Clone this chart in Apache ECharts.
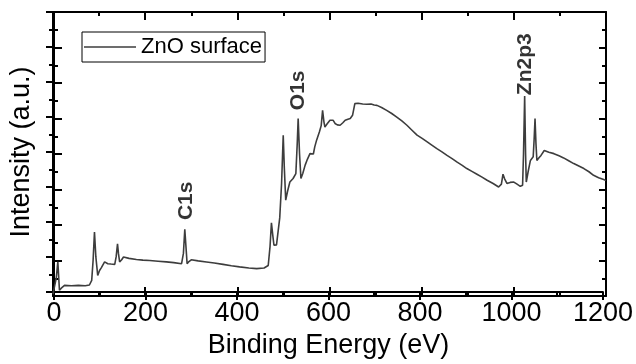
<!DOCTYPE html>
<html><head><meta charset="utf-8">
<script src="https://cdn.jsdelivr.net/npm/echarts@6/dist/echarts.min.js"></script>
<style>html,body{margin:0;padding:0;background:#fff}#c{width:636px;height:364px}</style>
</head><body><div id="c"></div><script>
// Binding energy (eV)
const energy = [0,3,7,10.5,12.5,14,18,25,40,55,70,79,84,87,90,93,97,101,105,112,119,126,134,137,140,142,144.6,149,153,165,181,195,210,228,246,262,279,283,286,289,291,295,300,315,333,350,369,387,405,425,442,458,467,471,474,477,479.5,485,489,492,496,499.6,502,505,509,514,521,527,530,532,535,538,542,547,552,557.6,565,568,572,578,582,585,588,590,595,601,608,612,617,623,629,634,640,645,650,655,658,662,666,672,681,690,697,703,713,724,735,746,757,768,779,790,801,812,822,833,844,855,866,877,888,898,909,920,931,942,955,967,973,976.5,980,985,992,1000,1007,1014,1019,1021,1023.5,1025.5,1027,1031,1036,1042,1044,1046,1048,1050,1055,1059,1066,1076,1087,1098,1108,1119,1130,1141,1152,1163,1173,1184,1195,1200];
// Intensity (a.u.)
const intensity = [0.05,0.25,0.5,0.96,0.5,0.16,0.22,0.30,0.29,0.30,0.29,0.31,0.44,1.0,1.80,1.1,0.58,0.72,0.80,0.96,0.91,0.90,0.89,1.1,1.47,1.2,0.96,1.02,1.10,1.06,1.03,1.01,1.0,0.98,0.96,0.94,0.91,1.2,1.88,1.3,0.91,0.97,1.02,0.99,0.96,0.93,0.89,0.85,0.82,0.79,0.77,0.79,0.86,1.4,2.06,1.7,1.43,1.44,1.47,2.2,3.17,4.53,3.6,2.70,2.95,3.21,3.31,3.45,4.3,5.0,4.0,3.31,3.45,3.68,3.85,4.01,4.0,4.2,4.39,4.62,4.8,5.23,4.9,4.76,4.85,4.95,4.95,4.86,4.82,4.81,4.88,4.95,4.98,5.0,5.09,5.42,5.46,5.43,5.44,5.41,5.40,5.41,5.38,5.37,5.31,5.23,5.14,5.04,4.93,4.81,4.67,4.53,4.44,4.34,4.25,4.15,4.06,3.96,3.87,3.77,3.68,3.59,3.51,3.43,3.35,3.26,3.17,3.07,3.15,3.43,3.3,3.17,3.2,3.21,3.15,3.09,3.12,4.0,5.63,4.0,3.21,3.5,3.82,3.92,4.4,5.0,4.3,3.82,3.9,3.96,4.10,4.05,4.01,3.95,3.89,3.81,3.73,3.66,3.59,3.50,3.40,3.33,3.28,3.25];
// Peak annotations
const peakLabels = ['C1s','O1s','Zn2p3'];
const peakX = [290, 534, 1031];
const peakY = [2.04, 5.18, 5.61];

const seriesName = 'ZnO surface';
const FONT = 'Liberation Sans, Arial, sans-serif';
const G = {left:53, top:12, width:553, height:284};
const BLK = '#000';
const LINE = '#3d3d3d';

function ax(extra){
  return Object.assign({
    type:'value', splitLine:{show:false},
    axisLine:{show:true, onZero:false, lineStyle:{color:BLK, width:2}},
    axisLabel:{show:false},
  }, extra);
}

const chart = echarts.init(document.getElementById('c'), null, {renderer:'canvas'});
chart.setOption({
  animation:false,
  textStyle:{fontFamily:FONT},
  grid:[Object.assign({}, G), Object.assign({}, G)],
  legend:{
    data:[{name:seriesName, icon:'rect'}], left:82, top:32, padding:[4,3,4,2],
    itemWidth:52, itemHeight:1.5, itemGap:0,
    borderColor:BLK, borderWidth:1, borderRadius:0,
    textStyle:{fontSize:22, color:BLK, fontFamily:FONT}
  },
  xAxis:[
    ax({gridIndex:0, position:'bottom', min:0, max:1200, interval:200,
      axisTick:{inside:true, length:9, lineStyle:{color:BLK, width:2}},
      minorTick:{show:true, splitNumber:2, length:5, lineStyle:{color:BLK, width:2}}}),
    ax({gridIndex:0, position:'top', min:0, max:1200, interval:200,
      axisTick:{inside:true, length:8, lineStyle:{color:BLK, width:2}},
      minorTick:{show:true, splitNumber:2, length:4, lineStyle:{color:BLK, width:2}}}),
    ax({gridIndex:1, position:'bottom', min:0, max:1200, interval:200,
      axisTick:{inside:false, length:8, lineStyle:{color:BLK, width:2}},
      minorTick:{show:true, splitNumber:2, length:5, lineStyle:{color:BLK, width:2}},
      axisLabel:{show:true, fontSize:27, color:BLK, margin:8, fontFamily:FONT, formatter:v=>String(v)},
      name:'Binding Energy (eV)', nameLocation:'middle', nameGap:40,
      nameTextStyle:{fontSize:27, color:BLK, fontFamily:FONT}})
  ],
  yAxis:[
    ax({gridIndex:0, position:'left', min:0, max:8, interval:1,
      axisTick:{inside:true, length:9, lineStyle:{color:BLK, width:2}},
      minorTick:{show:true, splitNumber:2, length:5, lineStyle:{color:BLK, width:2}}}),
    ax({gridIndex:0, position:'right', min:0, max:8, interval:1,
      axisTick:{inside:true, length:7, lineStyle:{color:BLK, width:2}},
      minorTick:{show:true, splitNumber:2, length:4, lineStyle:{color:BLK, width:2}}}),
    ax({gridIndex:1, position:'left', min:0, max:8, interval:1,
      axisTick:{inside:false, length:8, lineStyle:{color:BLK, width:2}},
      minorTick:{show:true, splitNumber:2, length:5, lineStyle:{color:BLK, width:2}},
      name:'Intensity (a.u.)', nameLocation:'middle', nameGap:19,
      nameTextStyle:{fontSize:27, color:BLK, fontFamily:FONT}})
  ],
  series:[
    {
      name:seriesName, type:'line', xAxisIndex:0, yAxisIndex:0,
      data:energy.map((e,i)=>[e, intensity[i]]),
      symbol:'none', lineStyle:{color:LINE, width:1.6}, itemStyle:{color:LINE},
      silent:true
    },
    {
      name:'peaks', type:'scatter', xAxisIndex:2, yAxisIndex:2,
      data:peakLabels.map((l,i)=>({value:[peakX[i], peakY[i]], name:l})),
      symbolSize:1, itemStyle:{color:'rgba(0,0,0,0)'}, silent:true,
      label:{show:true, formatter:p=>p.name, position:'top', distance:0, rotate:90,
        align:'left', verticalAlign:'middle', fontSize:21, fontWeight:'bold', color:BLK, fontFamily:FONT}
    }
  ]
});
</script></body></html>
